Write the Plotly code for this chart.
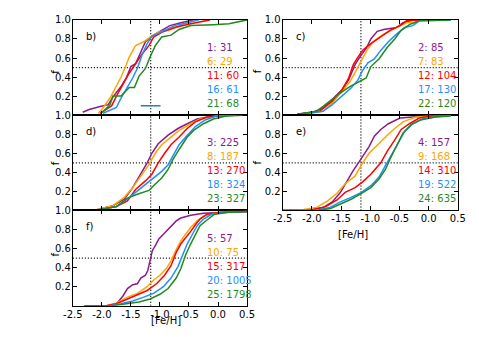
import plotly.graph_objects as go

# cumulative [Fe/H] distributions, one curve per group (numbered as in the legends)
counts = {1: 31, 2: 85, 3: 225, 4: 157, 5: 57,
          6: 29, 7: 83, 8: 187, 9: 168, 10: 75,
          11: 60, 12: 104, 13: 270, 14: 310, 15: 317,
          16: 61, 17: 130, 18: 324, 19: 522, 20: 1005,
          21: 68, 22: 120, 23: 327, 24: 635, 25: 1798}

# panel b
feh_1 = [-2.33, -2.22, -2.03, -1.89, -1.80, -1.67, -1.58, -1.50, -1.42, -1.33, -1.25, -1.14, -0.97, -0.83, -0.64, -0.42]
f_1 = [0.03, 0.06, 0.09, 0.11, 0.20, 0.30, 0.39, 0.51, 0.54, 0.66, 0.77, 0.83, 0.89, 0.94, 0.97, 1.0]
feh_6 = [-2.06, -2.00, -1.86, -1.75, -1.67, -1.58, -1.53, -1.44, -1.42, -1.28, -1.17, -1.03, -0.81, -0.58, -0.36]
f_6 = [0.02, 0.06, 0.18, 0.30, 0.40, 0.53, 0.61, 0.71, 0.73, 0.77, 0.82, 0.87, 0.90, 0.96, 1.0]
feh_11 = [-2.03, -1.83, -1.75, -1.64, -1.53, -1.42, -1.31, -1.19, -1.11, -0.97, -0.75, -0.47, -0.14]
f_11 = [0.02, 0.10, 0.20, 0.32, 0.44, 0.54, 0.64, 0.73, 0.82, 0.87, 0.92, 0.96, 1.0]
feh_16 = [-1.98, -1.75, -1.67, -1.56, -1.47, -1.39, -1.31, -1.22, -1.14, -0.92, -0.75, -0.53, -0.33]
f_16 = [0.02, 0.08, 0.18, 0.29, 0.39, 0.49, 0.63, 0.75, 0.83, 0.89, 0.94, 0.97, 1.0]
feh_21 = [-2.03, -1.86, -1.81, -1.67, -1.53, -1.44, -1.36, -1.25, -1.17, -1.08, -0.97, -0.81, -0.67, -0.47, -0.08, 0.19, 0.50]
f_21 = [0.01, 0.11, 0.20, 0.20, 0.29, 0.29, 0.41, 0.49, 0.61, 0.73, 0.82, 0.84, 0.90, 0.94, 0.95, 0.96, 1.0]

# panel c
feh_2 = [-2.25, -1.98, -1.79, -1.65, -1.48, -1.37, -1.26, -1.18, -1.07, -0.99, -0.88, -0.77, -0.55, -0.44, -0.27]
f_2 = [0.01, 0.03, 0.08, 0.17, 0.27, 0.37, 0.53, 0.61, 0.70, 0.80, 0.88, 0.90, 0.92, 0.97, 1.0]
feh_7 = [-2.14, -1.81, -1.62, -1.48, -1.35, -1.24, -1.13, -1.04, -0.93, -0.77, -0.55, -0.38, -0.25, -0.16]
f_7 = [0.01, 0.04, 0.15, 0.25, 0.35, 0.47, 0.59, 0.70, 0.78, 0.85, 0.92, 0.97, 0.97, 1.0]
feh_12 = [-2.25, -1.87, -1.65, -1.48, -1.37, -1.29, -1.21, -1.13, -0.99, -0.82, -0.66, -0.49, -0.38, -0.16]
f_12 = [0.01, 0.04, 0.15, 0.27, 0.39, 0.53, 0.61, 0.68, 0.75, 0.82, 0.89, 0.94, 0.99, 1.0]
feh_17 = [-2.20, -1.81, -1.65, -1.48, -1.32, -1.21, -1.14, -1.04, -0.93, -0.82, -0.69, -0.55, -0.41, -0.27, -0.16, 0.38]
f_17 = [0.01, 0.04, 0.11, 0.20, 0.29, 0.37, 0.46, 0.55, 0.59, 0.68, 0.77, 0.85, 0.92, 0.94, 0.99, 1.0]
feh_22 = [-2.25, -1.92, -1.73, -1.54, -1.35, -1.18, -1.07, -0.99, -0.85, -0.71, -0.58, -0.47, -0.33, -0.16, 0.38]
f_22 = [0.01, 0.04, 0.13, 0.22, 0.30, 0.35, 0.39, 0.51, 0.59, 0.71, 0.80, 0.89, 0.95, 0.99, 1.0]

# panel d
feh_3 = [-2.30, -2.08, -1.81, -1.61, -1.47, -1.33, -1.22, -1.14, -1.03, -0.86, -0.69, -0.53, -0.36, -0.08, 0.19]
f_3 = [0.0, 0.01, 0.05, 0.12, 0.24, 0.38, 0.50, 0.60, 0.70, 0.79, 0.86, 0.91, 0.96, 0.99, 1.0]
feh_8 = [-2.30, -2.08, -1.81, -1.61, -1.47, -1.33, -1.19, -1.08, -0.97, -0.81, -0.67, -0.47, -0.31, -0.03, 0.31]
f_8 = [0.0, 0.01, 0.05, 0.14, 0.24, 0.36, 0.48, 0.60, 0.69, 0.77, 0.84, 0.91, 0.96, 0.99, 1.0]
feh_13 = [-2.30, -2.03, -1.75, -1.56, -1.42, -1.25, -1.14, -1.03, -0.92, -0.81, -0.67, -0.53, -0.39, -0.19, 0.19]
f_13 = [0.0, 0.01, 0.04, 0.10, 0.22, 0.31, 0.38, 0.50, 0.60, 0.69, 0.77, 0.86, 0.93, 0.98, 1.0]
feh_18 = [-2.30, -2.03, -1.75, -1.56, -1.42, -1.25, -1.11, -0.97, -0.86, -0.78, -0.67, -0.53, -0.39, -0.22, -0.03, 0.31]
f_18 = [0.0, 0.01, 0.04, 0.12, 0.19, 0.27, 0.34, 0.41, 0.48, 0.57, 0.69, 0.79, 0.88, 0.95, 0.99, 1.0]
feh_23 = [-2.30, -2.03, -1.75, -1.56, -1.39, -1.19, -1.11, -0.97, -0.86, -0.78, -0.67, -0.53, -0.42, -0.25, -0.08, 0.14, 0.42]
f_23 = [0.0, 0.01, 0.04, 0.13, 0.17, 0.21, 0.26, 0.34, 0.43, 0.53, 0.64, 0.77, 0.84, 0.91, 0.96, 0.99, 1.0]

# panel e
feh_4 = [-2.50, -2.03, -1.81, -1.65, -1.51, -1.40, -1.29, -1.18, -1.10, -1.02, -0.93, -0.82, -0.69, -0.49, -0.27, -0.05, 0.38]
f_4 = [0.0, 0.01, 0.03, 0.09, 0.19, 0.31, 0.42, 0.52, 0.60, 0.67, 0.78, 0.85, 0.91, 0.97, 0.98, 0.99, 1.0]
feh_9 = [-2.50, -2.14, -1.92, -1.73, -1.57, -1.43, -1.26, -1.15, -1.02, -0.88, -0.71, -0.58, -0.44, -0.22, 0.05, 0.38]
f_9 = [0.0, 0.01, 0.03, 0.10, 0.18, 0.28, 0.36, 0.48, 0.60, 0.69, 0.79, 0.86, 0.93, 0.98, 0.99, 1.0]
feh_14 = [-2.50, -2.03, -1.76, -1.57, -1.43, -1.26, -1.13, -0.99, -0.82, -0.71, -0.58, -0.47, -0.33, -0.16, 0.05, 0.38]
f_14 = [0.0, 0.0, 0.04, 0.11, 0.19, 0.24, 0.30, 0.38, 0.50, 0.62, 0.74, 0.85, 0.91, 0.97, 0.99, 1.0]
feh_19 = [-2.50, -1.92, -1.70, -1.51, -1.32, -1.15, -0.99, -0.85, -0.74, -0.63, -0.52, -0.41, -0.27, -0.11, 0.11, 0.38]
f_19 = [0.0, 0.0, 0.03, 0.09, 0.14, 0.19, 0.26, 0.35, 0.47, 0.59, 0.71, 0.83, 0.91, 0.96, 0.98, 1.0]
feh_24 = [-2.50, -1.92, -1.68, -1.51, -1.32, -1.15, -0.99, -0.85, -0.74, -0.66, -0.55, -0.44, -0.30, -0.14, 0.11, 0.38]
f_24 = [0.0, 0.0, 0.02, 0.07, 0.12, 0.18, 0.24, 0.33, 0.43, 0.54, 0.67, 0.81, 0.90, 0.95, 0.98, 0.99]

# panel f
feh_5 = [-1.92, -1.75, -1.64, -1.56, -1.47, -1.39, -1.33, -1.25, -1.21, -1.17, -1.13, -1.08, -1.02, -0.94, -0.86, -0.81, -0.72, -0.64, -0.47, -0.25, 0.03, 0.50]
f_5 = [0.0, 0.02, 0.10, 0.18, 0.22, 0.23, 0.29, 0.32, 0.37, 0.47, 0.58, 0.63, 0.70, 0.75, 0.80, 0.83, 0.89, 0.92, 0.95, 0.97, 0.98, 0.99]
feh_10 = [-2.30, -1.92, -1.75, -1.56, -1.39, -1.22, -1.11, -1.00, -0.89, -0.81, -0.72, -0.64, -0.56, -0.47, -0.36, -0.25, -0.08, 0.19, 0.50]
f_10 = [0.0, 0.0, 0.03, 0.09, 0.13, 0.20, 0.27, 0.32, 0.39, 0.47, 0.59, 0.68, 0.75, 0.82, 0.89, 0.94, 0.97, 0.99, 0.99]
feh_15 = [-2.30, -1.92, -1.75, -1.56, -1.39, -1.22, -1.06, -0.92, -0.81, -0.72, -0.64, -0.56, -0.47, -0.39, -0.31, -0.19, 0.03, 0.50]
f_15 = [0.0, 0.0, 0.02, 0.07, 0.11, 0.16, 0.23, 0.32, 0.42, 0.56, 0.65, 0.71, 0.78, 0.85, 0.91, 0.96, 0.98, 0.99]
feh_20 = [-2.30, -1.86, -1.67, -1.47, -1.28, -1.11, -0.94, -0.81, -0.69, -0.61, -0.53, -0.44, -0.36, -0.25, -0.11, 0.14, 0.50]
f_20 = [0.0, 0.0, 0.02, 0.05, 0.09, 0.13, 0.20, 0.29, 0.41, 0.53, 0.65, 0.75, 0.84, 0.91, 0.96, 0.98, 0.99]
feh_25 = [-2.30, -1.81, -1.58, -1.36, -1.17, -1.00, -0.86, -0.72, -0.64, -0.56, -0.47, -0.39, -0.31, -0.19, -0.06, 0.19, 0.50]
f_25 = [0.0, 0.0, 0.02, 0.04, 0.07, 0.12, 0.18, 0.29, 0.39, 0.53, 0.65, 0.75, 0.84, 0.90, 0.96, 0.98, 0.99]

curves = {
    1: (feh_1, f_1), 2: (feh_2, f_2), 3: (feh_3, f_3), 4: (feh_4, f_4), 5: (feh_5, f_5),
    6: (feh_6, f_6), 7: (feh_7, f_7), 8: (feh_8, f_8), 9: (feh_9, f_9), 10: (feh_10, f_10),
    11: (feh_11, f_11), 12: (feh_12, f_12), 13: (feh_13, f_13), 14: (feh_14, f_14), 15: (feh_15, f_15),
    16: (feh_16, f_16), 17: (feh_17, f_17), 18: (feh_18, f_18), 19: (feh_19, f_19), 20: (feh_20, f_20),
    21: (feh_21, f_21), 22: (feh_22, f_22), 23: (feh_23, f_23), 24: (feh_24, f_24), 25: (feh_25, f_25),
}

# short bar drawn in panel b
bar_feh = [-1.33, -0.99]
bar_f = [0.10, 0.10]

feh_ref = -1.16
f_half = 0.5

panel_names = ["b)", "c)", "d)", "e)", "f)"]
colors = ["#8b1a8b", "#ffa500", "#ff0000", "#1e90ff", "#1f8a1f"]

W, H = 479, 337
OFF = 8  # the page body has an 8px margin, so shift everything up/left by it
FONT = "DejaVu Sans"


def px(xp):
    return (xp - OFF) / W


def py(yp):
    return 1 - (yp - OFF) / H


# pixel boxes (left, right, top, bottom) of each panel in the target picture
boxes = [
    (65, 246, 14, 111),   # b
    (283, 465, 14, 111),  # c
    (65, 246, 111, 208),  # d
    (283, 465, 111, 208), # e
    (65, 246, 208, 305),  # f
]
bottom_panels = {3, 4}

fig = go.Figure()
layout = {}
for p, (l, r, t, b) in enumerate(boxes):
    sfx = "" if p == 0 else str(p + 1)
    xa, ya = "x" + sfx, "y" + sfx
    layout["xaxis" + sfx] = dict(
        domain=[px(l), px(r)], anchor=ya, range=[-2.5, 0.5],
        tickvals=[-2.5, -2.0, -1.5, -1.0, -0.5, 0.0, 0.5],
        ticktext=["-2.5", "-2.0", "-1.5", "-1.0", "-0.5", "0.0", "0.5"],
        showticklabels=p in bottom_panels, ticklabelstandoff=-1,
        ticks="inside", ticklen=4, tickcolor="black", mirror="allticks",
        showline=True, linecolor="black", linewidth=1, showgrid=False, zeroline=False,
        tickfont=dict(size=10, color="black", family=FONT),
    )
    layout["yaxis" + sfx] = dict(
        domain=[py(b), py(t)], anchor=xa, range=[0, 1],
        tickvals=[0.2, 0.4, 0.6, 0.8, 1.0],
        ticktext=["0.2", "0.4", "0.6", "0.8", "1.0"], ticklabelstandoff=-1,
        ticks="inside", ticklen=4, tickcolor="black", mirror="allticks",
        showline=True, linecolor="black", linewidth=1, showgrid=False, zeroline=False,
        tickfont=dict(size=10, color="black", family=FONT),
    )

    # reference lines
    fig.add_trace(go.Scatter(x=[feh_ref, feh_ref], y=[0, 1], xaxis=xa, yaxis=ya, mode="lines",
                             line=dict(color="black", width=1.3, dash="1px,2px"), showlegend=False))
    fig.add_trace(go.Scatter(x=[-2.5, 0.5], y=[f_half, f_half], xaxis=xa, yaxis=ya, mode="lines",
                             line=dict(color="black", width=1.3, dash="1px,2px"), showlegend=False))

    for c in range(5):
        k = p + 1 + 5 * c
        xs, fs = curves[k]
        fig.add_trace(go.Scatter(x=xs, y=fs, xaxis=xa, yaxis=ya, mode="lines",
                                 line=dict(color=colors[c], width=1.5), showlegend=False))
        fig.add_annotation(xref=xa + " domain", yref=ya + " domain", x=0.76, y=0.71 - 0.147 * c,
                           text=f"{k}: {counts[k]}", showarrow=False, xanchor="left", yanchor="middle",
                           font=dict(size=10, color=colors[c], family=FONT))

    fig.add_annotation(xref=xa + " domain", yref=ya + " domain", x=0.065, y=0.83,
                       text=panel_names[p], showarrow=False, xanchor="left", yanchor="middle",
                       font=dict(size=10, color="black", family=FONT))
    # y label
    fx = 39 if l < 200 else 257
    fig.add_annotation(xref="paper", yref="paper", x=px(fx), y=py((t + b) / 2),
                       text="f", textangle=-90, showarrow=False,
                       font=dict(size=10, color="black", family=FONT))

fig.add_trace(go.Scatter(x=bar_feh, y=bar_f, xaxis="x", yaxis="y", mode="lines",
                         line=dict(color="#2b7bba", width=1.5), showlegend=False))

fig.add_annotation(xref="paper", yref="paper", x=px(144), y=py(328), text="[Fe/H]",
                   showarrow=False, font=dict(size=10, color="black", family=FONT))
fig.add_annotation(xref="paper", yref="paper", x=px(374), y=py(232), text="[Fe/H]",
                   showarrow=False, font=dict(size=10, color="black", family=FONT))

fig.update_layout(**layout)
fig.update_layout(width=W, height=H, margin=dict(l=0, r=0, t=0, b=0),
                  paper_bgcolor="white", plot_bgcolor="white",
                  font=dict(family=FONT, size=10, color="black"))

fig.write_html("out.html")
